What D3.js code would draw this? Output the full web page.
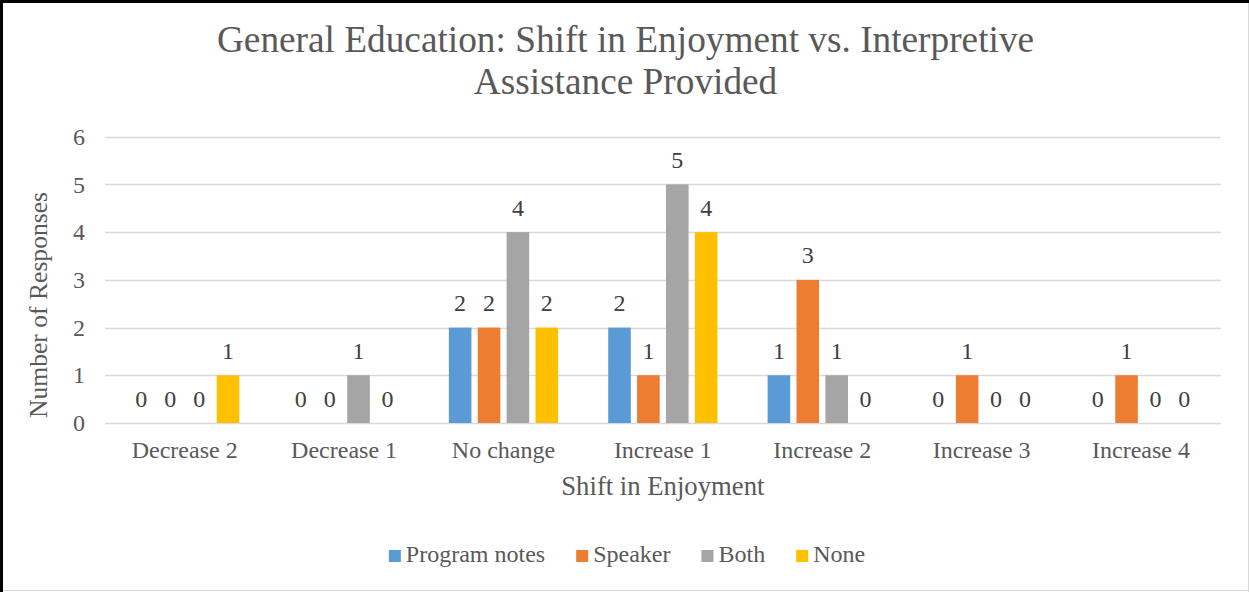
<!DOCTYPE html>
<html>
<head>
<meta charset="utf-8">
<script src="https://cdn.jsdelivr.net/npm/d3@7"></script>
<style>
html,body{margin:0;padding:0;background:#fff;}
svg{display:block;}
text{font-family:"Liberation Serif","Times New Roman",serif;}
</style>
</head>
<body>
<svg id="chart" width="1249" height="592"></svg>
<script>
const categories = ["Decrease 2","Decrease 1","No change","Increase 1","Increase 2","Increase 3","Increase 4"];
const seriesNames = ["Program notes","Speaker","Both","None"];
const programNotes = [0,0,2,2,1,0,0];
const speaker      = [0,0,2,1,3,1,1];
const both         = [0,1,4,5,1,0,0];
const none         = [1,0,2,4,0,0,0];
const yTicks = [0,1,2,3,4,5,6];
const colors = ["#5B9BD5","#ED7D31","#A5A5A5","#FFC000"];
const titleLines = ["General Education: Shift in Enjoyment vs. Interpretive","Assistance Provided"];
const xTitle = "Shift in Enjoyment";
const yTitle = "Number of Responses";

const seriesValues = [programNotes, speaker, both, none];

const W = 1249, H = 592;
const plot = {left:105, right:1220.7, top:136.7, bottom:423};
const svg = d3.select("#chart");

// frame
svg.append("rect").attr("x",0).attr("y",0).attr("width",W).attr("height",H).attr("fill","#fff");
svg.append("line").attr("x1",W-0.5).attr("x2",W-0.5).attr("y1",0).attr("y2",H).attr("stroke","#d9d9d9");
svg.append("line").attr("x1",0).attr("x2",W).attr("y1",H-1.5).attr("y2",H-1.5).attr("stroke","#d9d9d9");
svg.append("rect").attr("x",0).attr("y",0).attr("width",3).attr("height",H).attr("fill","#000");
svg.append("rect").attr("x",0).attr("y",0).attr("width",W).attr("height",3).attr("fill","#000");

const x0 = d3.scaleBand().domain(categories).range([plot.left, plot.right]).paddingInner(0.275).paddingOuter(0.1375);
const x1 = d3.scaleBand().domain(seriesNames).range([0, x0.bandwidth()]).paddingInner(0.218).paddingOuter(0.109);
const y = d3.scaleLinear().domain([0,6]).range([plot.bottom, plot.top]);

// gridlines
svg.append("g").selectAll("line").data(yTicks).join("line")
  .attr("x1",plot.left).attr("x2",plot.right)
  .attr("y1",d=>Math.round(y(d))+0.5).attr("y2",d=>Math.round(y(d))+0.5)
  .attr("stroke","#d9d9d9").attr("stroke-width",1.3);

// y axis labels
const yAxis = d3.axisLeft(y).tickValues(yTicks).tickSize(0).tickPadding(20).tickFormat(d3.format("d"));
const ga = svg.append("g").attr("transform",`translate(${plot.left},0)`).call(yAxis);
ga.select(".domain").remove();
ga.selectAll("text").attr("font-family","Liberation Serif").attr("font-size",24).attr("fill","#595959");

// x axis labels
const xAxis = d3.axisBottom(x0).tickSize(0).tickPadding(18);
const gx = svg.append("g").attr("transform",`translate(0,${plot.bottom})`).call(xAxis);
gx.select(".domain").remove();
gx.selectAll("text").attr("font-family","Liberation Serif").attr("font-size",24).attr("fill","#595959");

// bars
const groups = svg.append("g").selectAll("g").data(categories).join("g")
  .attr("transform",d=>`translate(${x0(d)},0)`);
groups.selectAll("rect").data((c,ci)=>seriesNames.map((s,si)=>({s,si,v:seriesValues[si][ci]}))).join("rect")
  .attr("x",d=>x1(d.s)).attr("width",x1.bandwidth())
  .attr("y",d=>y(d.v)).attr("height",d=>y(0)-y(d.v))
  .attr("fill",d=>colors[d.si]);
groups.selectAll("text").data((c,ci)=>seriesNames.map((s,si)=>({s,si,v:seriesValues[si][ci]}))).join("text")
  .attr("x",d=>x1(d.s)+x1.bandwidth()/2).attr("y",d=>y(d.v)-16.5)
  .attr("text-anchor","middle").attr("font-size",24).attr("fill","#404040")
  .text(d=>d.v);

// title
const cx = 625.5;
svg.append("text").attr("x",cx).attr("y",52).attr("text-anchor","middle").attr("font-size",37.3).attr("fill","#595959").text(titleLines[0]);
svg.append("text").attr("x",cx).attr("y",94).attr("text-anchor","middle").attr("font-size",37.3).attr("fill","#595959").text(titleLines[1]);

// axis titles
const pcx = (plot.left+plot.right)/2;
svg.append("text").attr("x",pcx).attr("y",495).attr("text-anchor","middle").attr("font-size",26.7).attr("fill","#595959").text(xTitle);
svg.append("text").attr("transform",`translate(46.5,305) rotate(-90)`).attr("text-anchor","middle").attr("font-size",25.6).attr("fill","#595959").text(yTitle);

// legend
const lg = svg.append("g");
let lx = 0;
seriesNames.forEach((s,i)=>{
  const it = lg.append("g").attr("transform",`translate(${lx},0)`);
  it.append("rect").attr("x",0).attr("y",-12).attr("width",12).attr("height",12).attr("fill",colors[i]);
  const t = it.append("text").attr("x",17).attr("y",0).attr("font-size",24).attr("fill","#595959").text(s);
  lx += 17 + t.node().getComputedTextLength() + 31;
});
const total = lx - 31;
lg.attr("transform",`translate(${cx - total/2 + 1.5},562)`);
</script>
</body>
</html>
